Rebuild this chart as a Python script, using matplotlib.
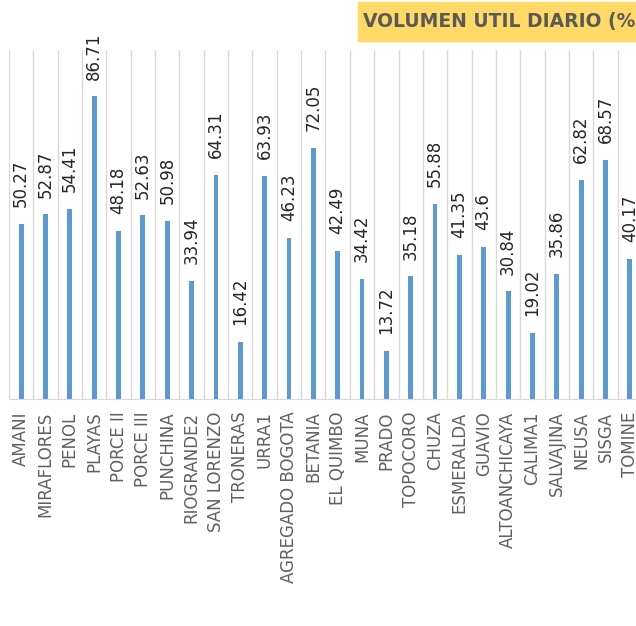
import matplotlib.pyplot as plt
from matplotlib.patches import Rectangle

embalses = ['AMANI', 'MIRAFLORES', 'PENOL', 'PLAYAS', 'PORCE II', 'PORCE III',
            'PUNCHINA', 'RIOGRANDE2', 'SAN LORENZO', 'TRONERAS', 'URRA1',
            'AGREGADO BOGOTA', 'BETANIA', 'EL QUIMBO', 'MUNA', 'PRADO',
            'TOPOCORO', 'CHUZA', 'ESMERALDA', 'GUAVIO', 'ALTOANCHICAYA',
            'CALIMA1', 'SALVAJINA', 'NEUSA', 'SISGA', 'TOMINE']
volumen = [50.27, 52.87, 54.41, 86.71, 48.18, 52.63, 50.98, 33.94, 64.31, 16.42,
           63.93, 46.23, 72.05, 42.49, 34.42, 13.72, 35.18, 55.88, 41.35, 43.6,
           30.84, 19.02, 35.86, 62.82, 68.57, 40.17]

fig = plt.figure(figsize=(6.36, 6.26), dpi=100)
ax = fig.add_axes([9 / 636, 1 - 399 / 626, 633 / 636, 349 / 626])

x = list(range(len(embalses)))
ax.bar(x, volumen, width=0.2, color='#5B9BD5', zorder=3)

for xi, v in zip(x, volumen):
    ax.annotate(f'{v:g}', (xi, v), xytext=(0, 12), textcoords='offset points',
                rotation=90, ha='center', va='bottom', fontsize=12, color='#262626')

ax.set_xlim(-0.5, len(embalses) - 0.5)
ax.set_ylim(0, 100)
ax.set_xticks(x)
ax.set_xticklabels(embalses, rotation=90, fontsize=12, color='#606060')
ax.tick_params(axis='x', length=0, pad=9)
ax.set_yticks([])

for b in range(len(embalses) + 1):
    ax.axvline(b - 0.5, color='#D9D9D9', lw=1, zorder=1)

for s in ['top', 'right', 'left']:
    ax.spines[s].set_visible(False)
ax.spines['bottom'].set_color('#D9D9D9')

fig.patches.append(Rectangle((358 / 636, 1 - 41 / 626), 0.5, 39 / 626,
                             transform=fig.transFigure, color='#FFD966', zorder=0))
fig.text(363 / 636, 1 - 22 / 626, 'VOLUMEN UTIL DIARIO (%)', fontsize=13.5,
         fontweight='bold', color='#595959', va='center', ha='left')

fig.savefig('out.png', dpi=100)
